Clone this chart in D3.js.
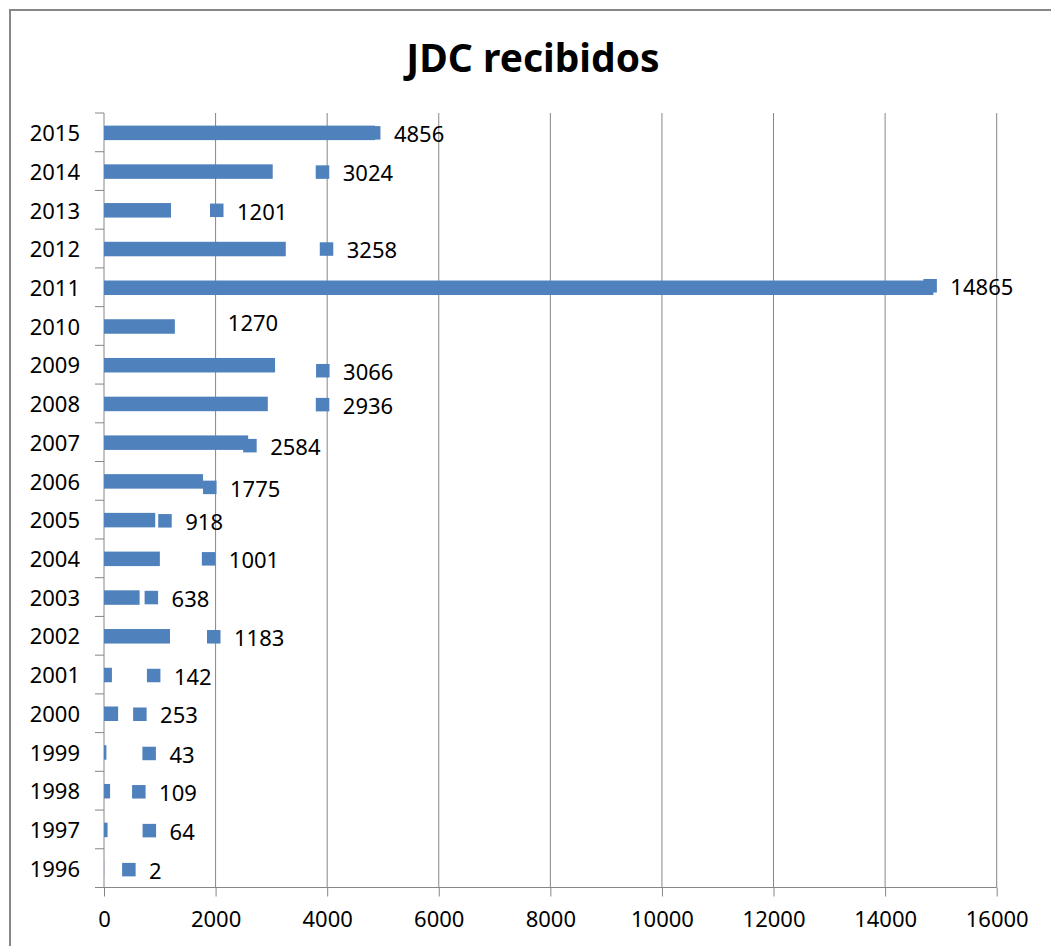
<!DOCTYPE html>
<html>
<head>
<meta charset="utf-8">
<script src="https://cdn.jsdelivr.net/npm/d3@7"></script>
<style>
  html, body { margin: 0; padding: 0; background: #fff; }
  svg { display: block; }
  text { font-family: "Noto Sans", "Open Sans", sans-serif; }
</style>
</head>
<body>
<div id="chart"></div>
<script>
// Documents received per year
const years = ["1996","1997","1998","1999","2000","2001","2002","2003","2004","2005",
               "2006","2007","2008","2009","2010","2011","2012","2013","2014","2015"];
const received = [2, 64, 109, 43, 253, 142, 1183, 638, 1001, 918,
                  1775, 2584, 2936, 3066, 1270, 14865, 3258, 1201, 3024, 4856];
const xTicks = [0, 2000, 4000, 6000, 8000, 10000, 12000, 14000, 16000];
const title = "JDC recibidos";

// Data-label layout (hand-placed labels): horizontal shift of the legend key
// from the bar end, vertical nudge, and whether the key is shown.
const labelShift = [18, 35, 22, 36, 15, 35, 37, 5, 42, 3, 0, -5, 48, 41, 26, -10, 34, 39, 43, -8];
const labelNudge = [1, 0.7, 0.6, 1, 0.5, 0.5, 0.5, 0, 0, 0.7, 6, 3, 0.7, 5.5, -5, -2, 0, 0, 0.5, 0];
const keyShown = years.map(y => y !== "2010");

const W = 1051, H = 946;
const plot = { left: 104, right: 996.7, top: 113, bottom: 887.5 };
const barColor = "#4F81BD";
const gridColor = "#868686";

const rows = years.map((y, i) => ({
  year: y, value: received[i], shift: labelShift[i], nudge: labelNudge[i], key: keyShown[i]
}));

const svg = d3.select("#chart").append("svg").attr("width", W).attr("height", H);

// chart area frame
svg.append("rect")
  .attr("x", 10).attr("y", 10).attr("width", W + 20).attr("height", H + 20)
  .attr("fill", "#fff").attr("stroke", "#878787").attr("stroke-width", 2);

svg.append("text")
  .attr("x", 533).attr("y", 72)
  .attr("text-anchor", "middle")
  .attr("font-size", 39).attr("font-weight", "bold")
  .attr("fill", "#000")
  .text(title);

const x = d3.scaleLinear().domain([0, 16000]).range([plot.left, plot.right]);
const y = d3.scaleBand().domain(years.slice().reverse()).range([plot.top, plot.bottom]);

// vertical gridlines
svg.append("g").selectAll("line")
  .data(xTicks.filter(t => t > 0))
  .join("line")
  .attr("x1", d => x(d)).attr("x2", d => x(d))
  .attr("y1", plot.top).attr("y2", plot.bottom)
  .attr("stroke", gridColor).attr("stroke-width", 1);

// x axis
const xAxis = d3.axisBottom(x).tickValues(xTicks).tickSize(9).tickPadding(15).tickFormat(d3.format("d"));
const gx = svg.append("g").attr("transform", `translate(0,${plot.bottom})`).call(xAxis);
gx.select(".domain").remove();
gx.selectAll(".tick line").attr("stroke", gridColor);
gx.selectAll(".tick text").attr("font-size", 22).attr("fill", "#000")
  .attr("font-family", "'Noto Sans', sans-serif");
svg.append("line")
  .attr("x1", plot.left - 9).attr("x2", plot.right)
  .attr("y1", plot.bottom).attr("y2", plot.bottom)
  .attr("stroke", gridColor);

// y axis line and category boundary ticks
svg.append("line")
  .attr("x1", plot.left).attr("x2", plot.left)
  .attr("y1", plot.top).attr("y2", plot.bottom)
  .attr("stroke", gridColor);
svg.append("g").selectAll("line")
  .data(y.domain())
  .join("line")
  .attr("x1", plot.left - 9).attr("x2", plot.left)
  .attr("y1", d => y(d)).attr("y2", d => y(d))
  .attr("stroke", gridColor);

// category labels
svg.append("g").selectAll("text")
  .data(years)
  .join("text")
  .attr("x", 80)
  .attr("y", d => y(d) + y.bandwidth() / 2 + 1)
  .attr("dy", "0.35em")
  .attr("text-anchor", "end")
  .attr("font-size", 22).attr("fill", "#000")
  .text(d => d);

const barH = 14.5;
const cy = d => y(d.year) + y.bandwidth() / 2 + 0.5;

// bars
svg.append("g").selectAll("rect")
  .data(rows)
  .join("rect")
  .attr("x", x(0))
  .attr("y", d => cy(d) - barH / 2)
  .attr("width", d => x(d.value) - x(0))
  .attr("height", barH)
  .attr("fill", barColor);

// data labels with legend key
const keySize = 13.5;
const lab = svg.append("g").selectAll("g")
  .data(rows)
  .join("g")
  .attr("transform", d => `translate(${x(d.value) + d.shift},${cy(d) + d.nudge})`);

lab.filter(d => d.key).append("rect")
  .attr("x", 0).attr("y", -keySize / 2)
  .attr("width", keySize).attr("height", keySize)
  .attr("fill", barColor);

lab.append("text")
  .attr("x", 27)
  .attr("y", 1.5)
  .attr("dy", "0.35em")
  .attr("font-size", 22).attr("fill", "#000")
  .text(d => d.value);
</script>
</body>
</html>
